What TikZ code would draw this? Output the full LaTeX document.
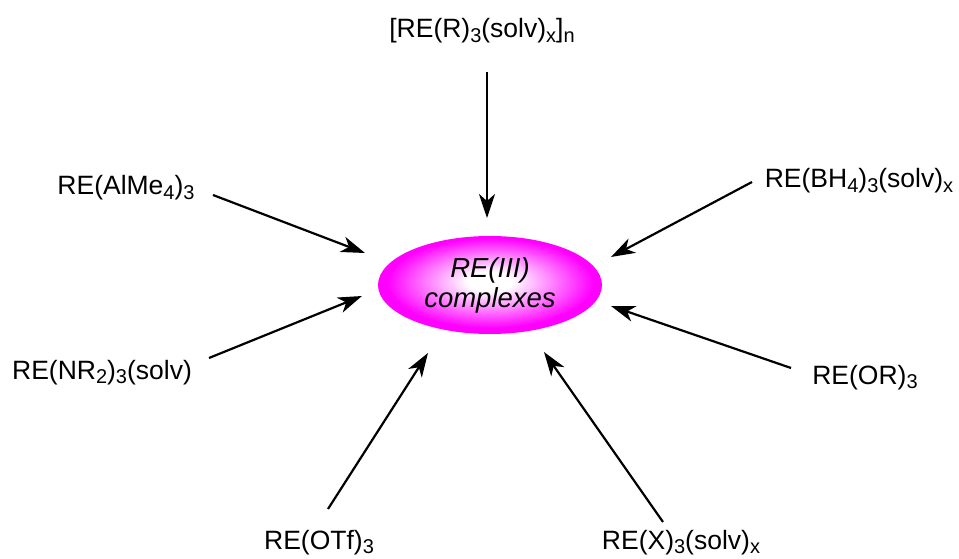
\documentclass[tikz,border=0pt]{standalone}
\usepackage{fontspec}
\setmainfont{Liberation Sans}
\usetikzlibrary{shapes.geometric,arrows.meta}
\newcommand\mysub[1]{\raisebox{-0.3ex}{\fontsize{20}{20}\selectfont #1}}
\pgfdeclareradialshading{ellshade}{\pgfpoint{0bp}{2bp}}{color(0bp)=(white); color(5bp)=(white); color(23bp)=(magenta); color(50bp)=(magenta)}
\tikzset{
  lbl/.style={anchor=base, font=\fontsize{26.5}{30}\selectfont, inner sep=0pt},
  arr/.style={line width=2.2pt, -{Stealth[length=24pt, width=16pt, inset=7pt]}},
  core/.style={ellipse, minimum width=224pt, minimum height=98pt, inner sep=0pt, shading=ellshade, align=center, font=\fontsize{27.5}{30}\selectfont\itshape}
}
\begin{document}
\begin{tikzpicture}[x=1pt,y=-1pt]
\useasboundingbox (0,0) rectangle (959,559);
\node[core] (c) at (490,285) {RE(III)\\complexes};
\node[lbl] (top) at (482,38) {[RE(R)\mysub{3}(solv)\mysub{x}]\mysub{n}};
\node[lbl] (al) at (126,195) {RE(AlMe\mysub{4})\mysub{3}};
\node[lbl] (bh) at (859,188) {RE(BH\mysub{4})\mysub{3}(solv)\mysub{x}};
\node[lbl] (nr) at (102,379) {RE(NR\mysub{2})\mysub{3}(solv)};
\node[lbl] (or) at (865,384) {RE(OR)\mysub{3}};
\node[lbl] (otf) at (319,549) {RE(OTf)\mysub{3}};
\node[lbl] (xs) at (681,549) {RE(X)\mysub{3}(solv)\mysub{x}};
\coordinate (s1) at (487,72);  \coordinate (t1) at (487,218);
\coordinate (s2) at (213,195); \coordinate (t2) at (365,253);
\coordinate (s3) at (752,182); \coordinate (t3) at (611,257);
\coordinate (s4) at (209,358); \coordinate (t4) at (362,296);
\coordinate (s5) at (791,368); \coordinate (t5) at (611,306);
\coordinate (s6) at (328,509); \coordinate (t6) at (428,353);
\coordinate (s7) at (663,522); \coordinate (t7) at (544,352);
\foreach \i in {1,...,7} { \draw[arr] (s\i) -- (t\i); }
\end{tikzpicture}
\end{document}
